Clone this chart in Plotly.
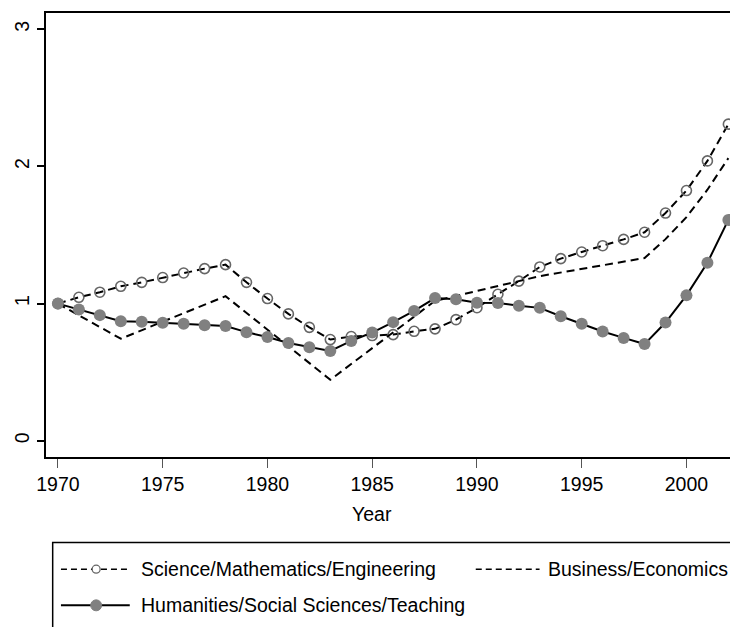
import plotly.graph_objects as go

# Index values (1970 = 1)
years = list(range(1970, 2003))

science = [1.00, 1.046, 1.083, 1.126, 1.155, 1.19, 1.223, 1.255, 1.284, 1.155,
           1.037, 0.925, 0.827, 0.738, 0.76, 0.767, 0.774, 0.798, 0.816, 0.883,
           0.97, 1.068, 1.164, 1.267, 1.328, 1.376, 1.422, 1.468, 1.52, 1.66,
           1.824, 2.04, 2.308]

humanities = [1.0, 0.957, 0.916, 0.872, 0.867, 0.86, 0.853, 0.843, 0.836, 0.792,
              0.756, 0.713, 0.682, 0.655, 0.728, 0.789, 0.865, 0.947, 1.04, 1.031,
              1.007, 1.005, 0.984, 0.969, 0.908, 0.853, 0.797, 0.75, 0.705, 0.862,
              1.06, 1.298, 1.61]

business_years = [1970, 1973, 1978, 1983, 1988, 1993, 1998, 1999, 2000, 2001, 2002]
business = [1.0, 0.744, 1.054, 0.445, 1.02, 1.2, 1.332, 1.47, 1.63, 1.83, 2.06]

labels = ["Science/Mathematics/Engineering", "Business/Economics",
          "Humanities/Social Sciences/Teaching"]

FONT = "Liberation Sans, Arial, sans-serif"
FS = 19.5
GRAY = "#808080"
DASH = "8px,5px"

# page offset of the plot div (default body margin)
OFF = 8
W, H = 738, 627
# plot area in page pixels
L, R, T, B = 44, 738, 11, 457


def px(x):
    return (x - L) / (R - L)


def py(y):
    return (B - y) / (B - T)


fig = go.Figure()

fig.add_trace(
    go.Scatter(
        x=years, y=science, mode="lines+markers", name=labels[0],
        line=dict(color="black", width=2, dash=DASH),
        marker=dict(symbol="circle-open", size=10, color="#666666",
                    line=dict(width=1.6, color="#666666")),
        showlegend=False,
    )
)

fig.add_trace(
    go.Scatter(
        x=business_years, y=business, mode="lines", name=labels[1],
        line=dict(color="black", width=2, dash=DASH),
        showlegend=False,
    )
)

fig.add_trace(
    go.Scatter(
        x=years, y=humanities, mode="lines+markers", name=labels[2],
        line=dict(color="black", width=2),
        marker=dict(symbol="circle", size=12, color=GRAY),
        showlegend=False,
    )
)

# Legend (Stata style box, cut off at the bottom of the image)
shapes = [
    dict(type="rect", xref="paper", yref="paper",
         x0=px(50.7), x1=px(734), y0=py(543), y1=py(700),
         line=dict(color="black", width=1.5)),
    # row 1: science sample
    dict(type="line", xref="paper", yref="paper",
         x0=px(59), x1=px(128), y0=py(569.7), y1=py(569.7),
         line=dict(color="black", width=1.5, dash="6px,4px")),
    dict(type="circle", xref="paper", yref="paper",
         x0=px(90.3), x1=px(98.3), y0=py(565.7), y1=py(573.7),
         fillcolor="white", line=dict(color="#666666", width=1.3)),
    # row 1: business sample
    dict(type="line", xref="paper", yref="paper",
         x0=px(475), x1=px(539), y0=py(569.7), y1=py(569.7),
         line=dict(color="black", width=1.5, dash="6px,4px")),
    # row 2: humanities sample
    dict(type="line", xref="paper", yref="paper",
         x0=px(59), x1=px(128), y0=py(606), y1=py(606),
         line=dict(color="black", width=2)),
    dict(type="circle", xref="paper", yref="paper",
         x0=px(88.8), x1=px(99.8), y0=py(600.5), y1=py(611.5),
         fillcolor=GRAY, line=dict(color=GRAY, width=1)),
]

annotations = [
    dict(text=labels[0], xref="paper", yref="paper", x=px(137), y=py(569.7),
         xanchor="left", yanchor="middle", showarrow=False,
         font=dict(family=FONT, size=FS, color="black")),
    dict(text=labels[1], xref="paper", yref="paper", x=px(545.5), y=py(569.7),
         xanchor="left", yanchor="middle", showarrow=False,
         font=dict(family=FONT, size=FS, color="black")),
    dict(text=labels[2], xref="paper", yref="paper", x=px(137), y=py(606),
         xanchor="left", yanchor="middle", showarrow=False,
         font=dict(family=FONT, size=FS, color="black")),
    dict(text="Year", xref="paper", yref="paper", x=px(371), y=py(514),
         xanchor="center", yanchor="middle", showarrow=False,
         font=dict(family=FONT, size=FS, color="black")),
]

fig.update_layout(
    width=W, height=H,
    margin=dict(l=L - OFF, r=W + OFF - R, t=T - OFF, b=H + OFF - B, pad=0),
    paper_bgcolor="white", plot_bgcolor="white",
    font=dict(family=FONT, size=FS, color="black"),
    shapes=shapes,
    annotations=annotations,
    xaxis=dict(
        range=[1969.43, 2002.46], tickvals=[1970, 1975, 1980, 1985, 1990, 1995, 2000],
        ticks="outside", ticklen=9, tickwidth=1, tickcolor="#555555",
        showline=True, linecolor="black", linewidth=2, mirror=True,
        showgrid=False, zeroline=False,
        tickfont=dict(family=FONT, size=FS),
    ),
    yaxis=dict(
        range=[-0.118, 3.118], tickvals=[0, 1, 2, 3],
        ticks="outside", ticklen=7, tickwidth=1.5, tickcolor="black",
        tickangle=-90,
        showline=True, linecolor="black", linewidth=2,
        showgrid=False, zeroline=False,
        tickfont=dict(family=FONT, size=FS),
    ),
)

fig.write_html("out.html")
